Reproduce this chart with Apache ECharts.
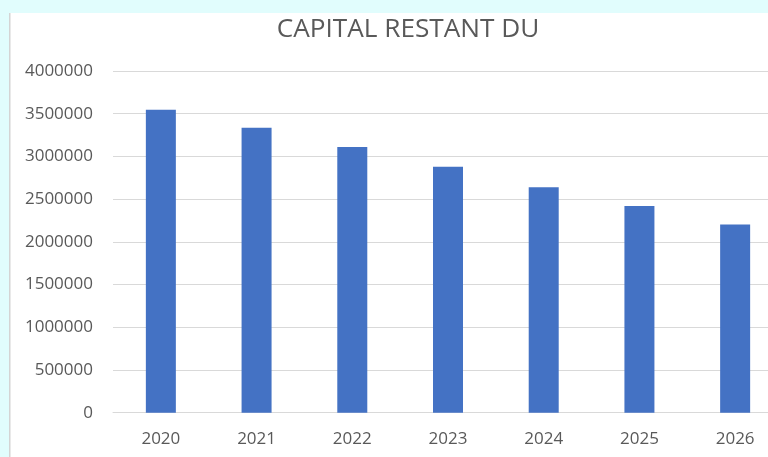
<!DOCTYPE html>
<html>
<head>
<meta charset="utf-8">
<script src="https://cdn.jsdelivr.net/npm/echarts@6/dist/echarts.min.js"></script>
<style>
html,body{margin:0;padding:0;background:#ffffff;overflow:hidden;width:768px;height:457px;}
#chart{width:790px;height:457px;}
</style>
</head>
<body>
<div id="chart"></div>
<script>
var titleText = 'CAPITAL RESTANT DU';
var categories = ['2020', '2021', '2022', '2023', '2024', '2025', '2026'];
var capitalRestant = [3547000, 3335000, 3111000, 2879000, 2638000, 2421000, 2202000];
var yTicks = [0, 500000, 1000000, 1500000, 2000000, 2500000, 3000000, 3500000, 4000000];

var chart = echarts.init(document.getElementById('chart'), null, {renderer: 'canvas'});
chart.setOption({
  backgroundColor: '#ffffff',
  animation: false,
  graphic: [
    {type: 'rect', left: 0, top: 0, shape: {width: 790, height: 13}, style: {fill: '#e1fdfd'}, z: 100},
    {type: 'rect', left: 0, top: 0, shape: {width: 9, height: 457}, style: {fill: '#e1fdfd'}, z: 100},
    {type: 'rect', left: 9, top: 13, shape: {width: 1.5, height: 444}, style: {fill: '#d4d4d4'}, z: 100}
  ],
  title: {
    text: titleText,
    left: 403,
    textAlign: 'center',
    top: 12,
    textStyle: {fontFamily: 'Open Sans', fontSize: 26.2, fontWeight: 'normal', color: '#595959'}
  },
  grid: {left: 113, width: 670, top: 71, height: 341.7, containLabel: false},
  xAxis: {
    type: 'category',
    data: categories,
    axisLine: {show: true, lineStyle: {color: '#d9d9d9', width: 1}},
    axisTick: {show: false},
    axisLabel: {fontFamily: 'Open Sans', fontSize: 17, color: '#595959', margin: 18}
  },
  yAxis: {
    type: 'value',
    min: yTicks[0],
    max: yTicks[yTicks.length - 1],
    interval: yTicks[1] - yTicks[0],
    axisLine: {show: false},
    axisTick: {show: false},
    splitLine: {lineStyle: {color: '#d9d9d9', width: 1}},
    axisLabel: {fontFamily: 'Open Sans', fontSize: 17, color: '#595959', margin: 20,
      formatter: function (v) { return String(v); }}
  },
  series: [{
    type: 'bar',
    data: capitalRestant,
    barWidth: 30,
    itemStyle: {color: '#4472c4'}
  }]
});
</script>
</body>
</html>
